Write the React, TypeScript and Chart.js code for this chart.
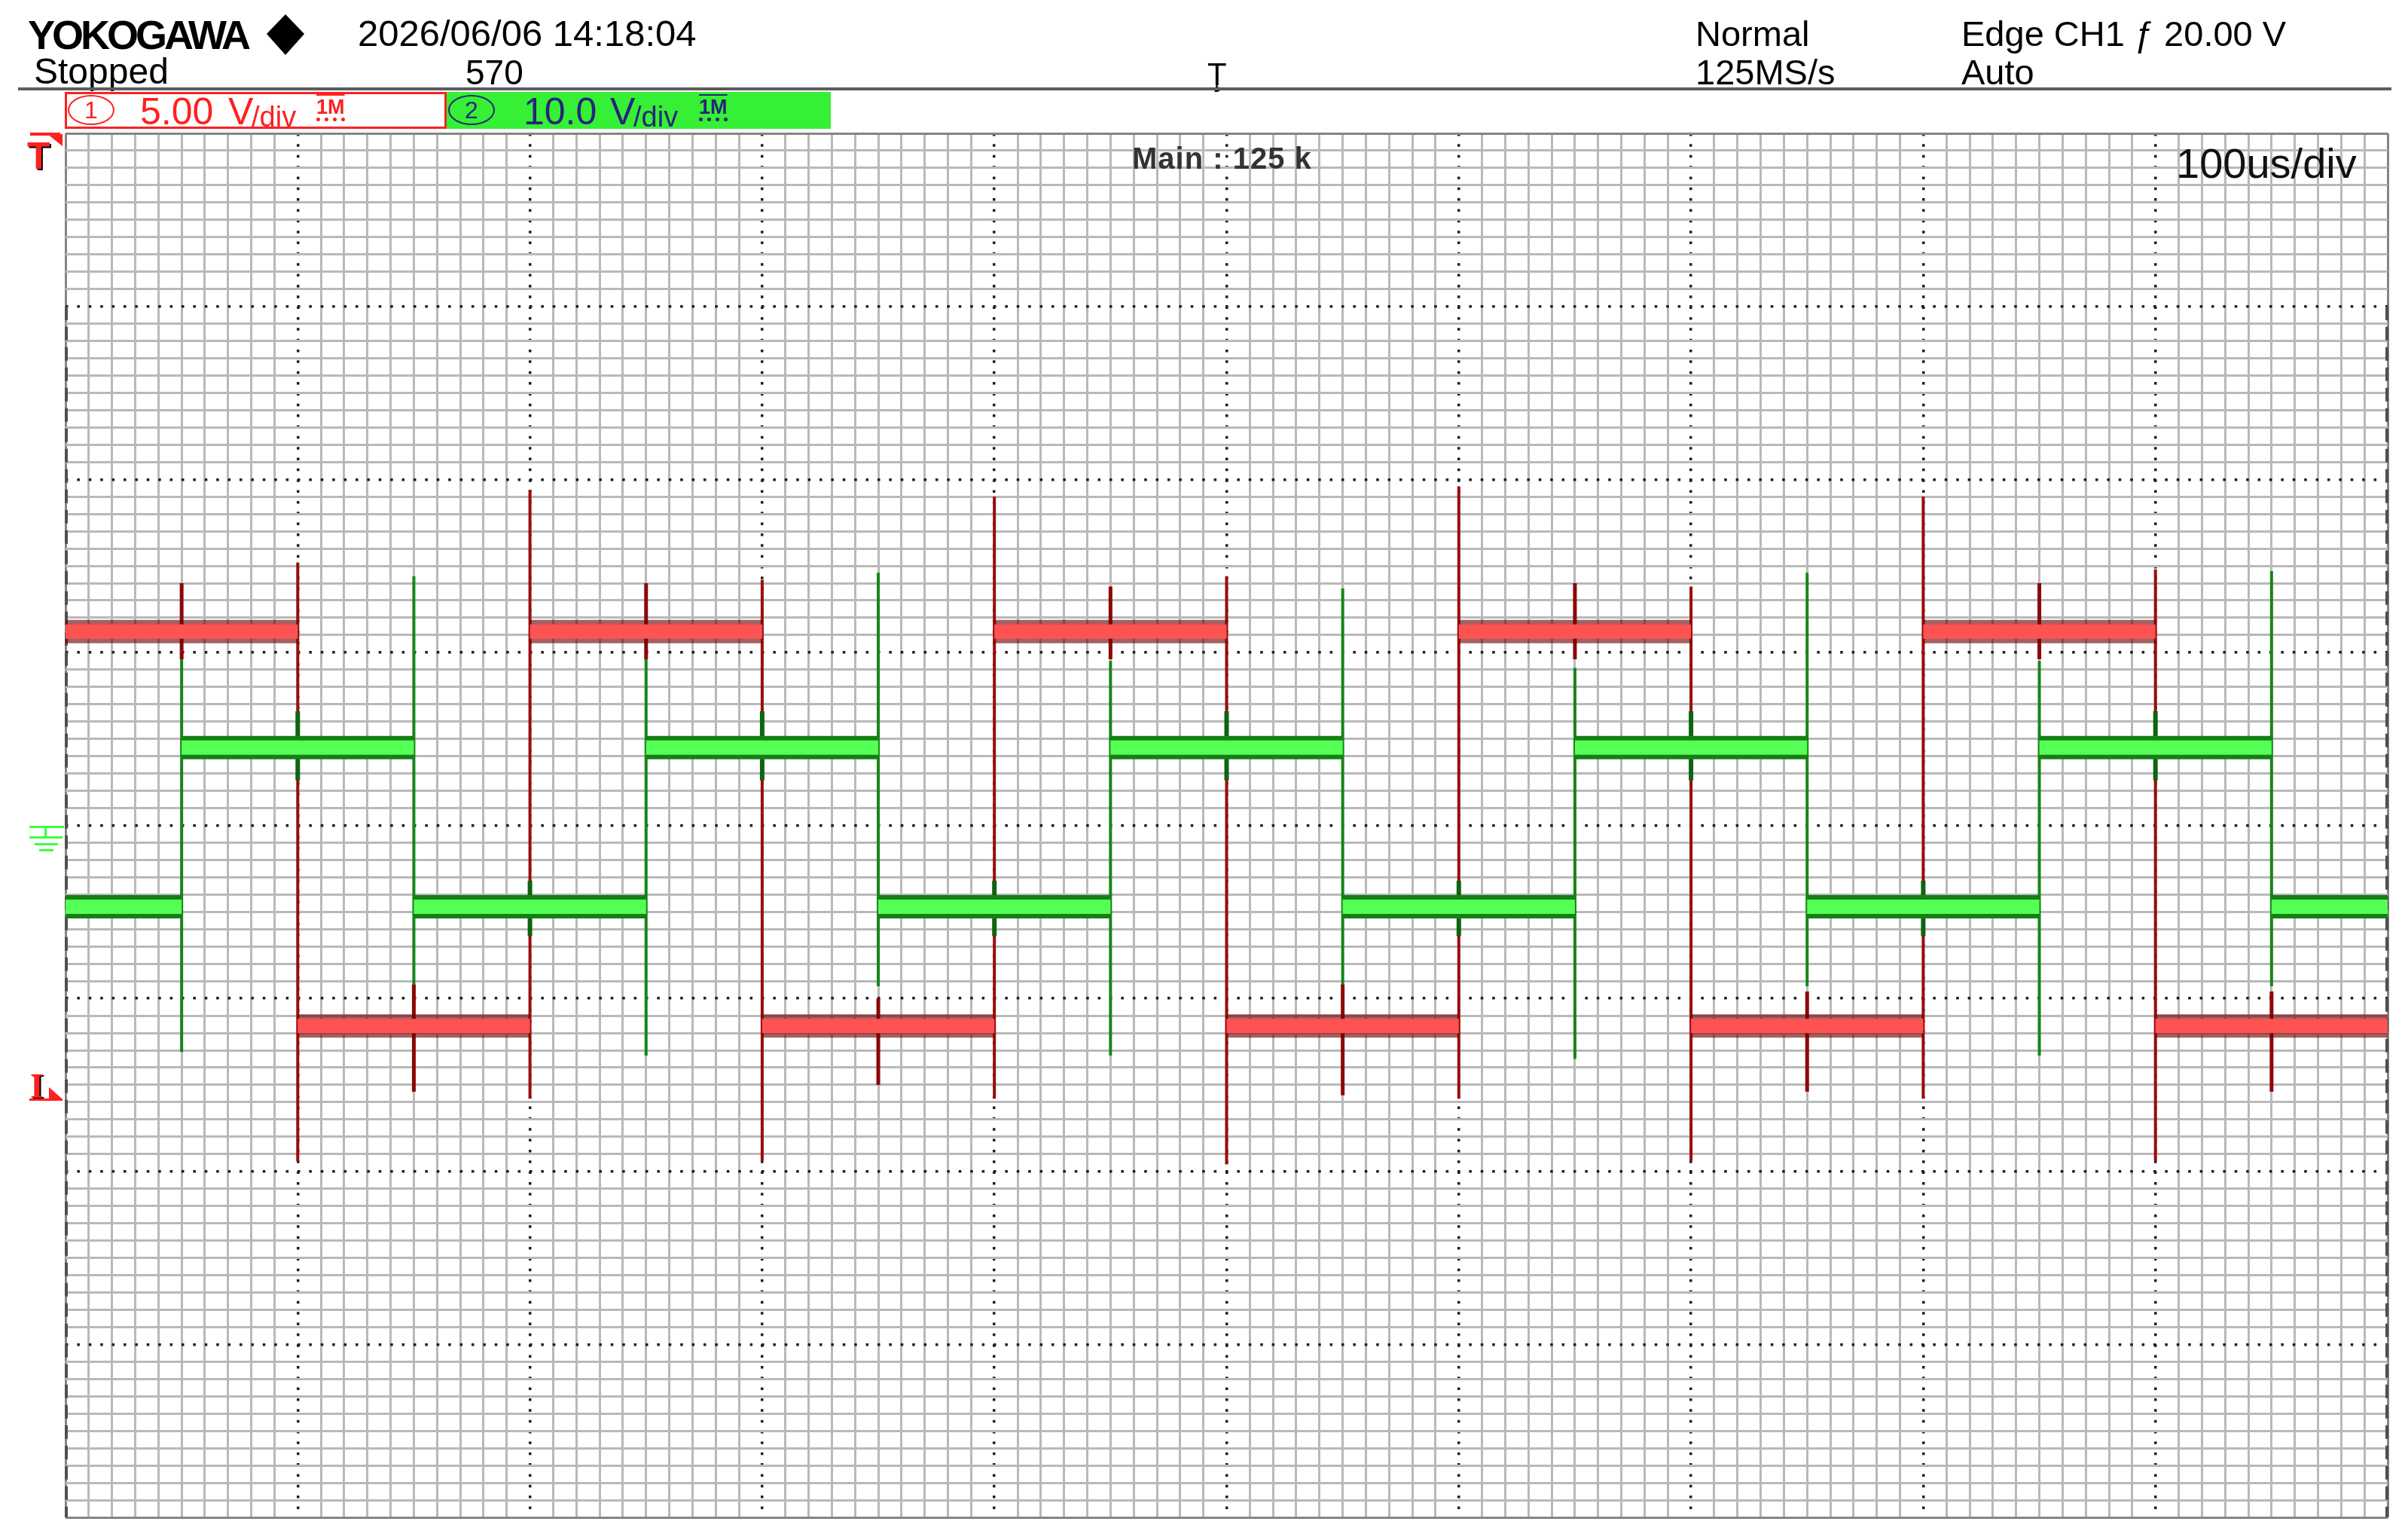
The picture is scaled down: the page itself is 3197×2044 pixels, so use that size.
import { useEffect, useRef } from 'react';
import { Chart, registerables } from 'chart.js';

Chart.register(...registerables);

// ---------------- data (time in µs, 100 µs/div) ----------------
const timeMin = -500;
const timeMax = 500;

// CH1 (red, 5.00 V/div) – flat levels in volts
const ch1SegStart = [-500, -400, -300, -200, -100, 0, 100, 200, 300, 400];
const ch1SegEnd = [-400, -300, -200, -100, 0, 100, 200, 300, 400, 500];
const ch1SegLevel = [13.6, 2.2, 13.6, 2.2, 13.6, 2.2, 13.6, 2.2, 13.6, 2.2];
// CH1 switching edges (with overshoot / undershoot extremes)
const ch1EdgeTime = [-400, -300, -200, -100, 0, 100, 200, 300, 400];
const ch1EdgeMax = [15.6, 17.7, 15.1, 17.5, 15.2, 17.8, 14.9, 17.5, 15.4];
const ch1EdgeMin = [-1.7, 0.1, -1.7, 0.1, -1.8, 0.1, -1.7, 0.1, -1.7];
// CH1 crosstalk glitches at CH2 edges
const ch1GlitchTime = [-450, -350, -250, -150, -50, 50, 150, 250, 350, 450];
const ch1GlitchMax = [15.0, 3.4, 15.0, 3.0, 14.9, 3.4, 15.0, 3.2, 15.0, 3.2];
const ch1GlitchMin = [12.8, 0.3, 12.8, 0.5, 12.8, 0.2, 12.8, 0.3, 12.8, 0.3];

// CH2 (green, 10.0 V/div)
const ch2SegStart = [-500, -450, -350, -250, -150, -50, 50, 150, 250, 350, 450];
const ch2SegEnd = [-450, -350, -250, -150, -50, 50, 150, 250, 350, 450, 500];
const ch2SegLevel = [-4.7, 4.5, -4.7, 4.5, -4.7, 4.5, -4.7, 4.5, -4.7, 4.5, -4.7];
const ch2EdgeTime = [-450, -350, -250, -150, -50, 50, 150, 250, 350, 450];
const ch2EdgeMax = [9.8, 14.4, 9.6, 14.6, 9.5, 13.7, 9.1, 14.6, 9.5, 14.7];
const ch2EdgeMin = [-13.1, -9.3, -13.3, -9.3, -13.3, -9.3, -13.5, -9.3, -13.3, -9.3];
const ch2GlitchTime = [-400, -300, -200, -100, 0, 100, 200, 300, 400];
const ch2GlitchMax = [6.6, -3.2, 6.6, -3.2, 6.6, -3.2, 6.6, -3.2, 6.6];
const ch2GlitchMin = [2.6, -6.4, 2.6, -6.4, 2.6, -6.4, 2.6, -6.4, 2.6];

// screen ranges (8 vertical divisions)
const ch1Min = -12;
const ch1Max = 28;
const ch2Min = -40;
const ch2Max = 40;

// ---------------- helpers ----------------
type P = { x: number; y: number | null };
function levelPoints(starts: number[], ends: number[], levels: number[]): P[] {
  const pts: P[] = [];
  starts.forEach((s, i) => {
    pts.push({ x: s, y: levels[i] }, { x: ends[i], y: levels[i] }, { x: ends[i], y: null });
  });
  return pts;
}
function spikePoints(times: number[], maxs: number[], mins: number[]): P[] {
  const pts: P[] = [];
  times.forEach((t, i) => {
    pts.push({ x: t, y: maxs[i] }, { x: t, y: mins[i] }, { x: t, y: null });
  });
  return pts;
}

const FONT = '"Liberation Sans", Arial, Helvetica, sans-serif';
const SERIF = '"Liberation Serif", "Times New Roman", serif';

function Txt(props: any) {
  const { x, b, size, color = '#000', weight = 400, family = FONT, ls = 0, children, extra = {} } = props;
  const asc = family === SERIF ? 0.8375 : 0.8465;
  return (
    <div
      style={{
        position: 'absolute',
        left: x,
        top: b - asc * size,
        fontSize: size,
        lineHeight: 1,
        fontFamily: family,
        fontWeight: weight,
        color,
        letterSpacing: ls,
        whiteSpace: 'nowrap',
        ...extra,
      }}
    >
      {children}
    </div>
  );
}

function Box(props: any) {
  const { x, y, w, h, bg, extra = {} } = props;
  return <div style={{ position: 'absolute', left: x, top: y, width: w, height: h, background: bg, ...extra }} />;
}

const scopeBorders = {
  id: 'scopeBorders',
  beforeDatasetsDraw(chart: any) {
    const { ctx, chartArea, scales } = chart;
    const yTop = scales.y.getPixelForValue(30);
    ctx.save();
    ctx.strokeStyle = '#505050';
    ctx.lineWidth = 4;
    ctx.setLineDash([18, 9]);
    ctx.beginPath();
    ctx.moveTo(chartArea.left + 1, yTop);
    ctx.lineTo(chartArea.left + 1, chartArea.bottom);
    ctx.moveTo(chartArea.right - 1, yTop);
    ctx.lineTo(chartArea.right - 1, chartArea.bottom);
    ctx.stroke();
    ctx.restore();
  },
};

const MINOR = '#b9b9b9';
const FRAME = '#858585';
const DOT = '#1e1e1e';

export default function App() {
  const ref = useRef<HTMLCanvasElement | null>(null);

  useEffect(() => {
    const common = { pointRadius: 0, pointHoverRadius: 0, tension: 0, spanGaps: false, fill: false };
    const chart = new Chart(ref.current as HTMLCanvasElement, {
      type: 'line',
      data: {
        datasets: [
          { ...common, label: 'CH1', data: levelPoints(ch1SegStart, ch1SegEnd, ch1SegLevel) as any, yAxisID: 'y1', borderColor: '#ff5252', borderWidth: 19, order: 1 },
          { ...common, label: 'CH1 noise', data: levelPoints(ch1SegStart, ch1SegEnd, ch1SegLevel) as any, yAxisID: 'y1', borderColor: 'rgba(110,0,0,0.62)', borderWidth: 31, order: 2 },
          { ...common, label: 'CH2', data: levelPoints(ch2SegStart, ch2SegEnd, ch2SegLevel) as any, yAxisID: 'y', borderColor: '#55ff55', borderWidth: 19, order: 3 },
          { ...common, label: 'CH2 noise', data: levelPoints(ch2SegStart, ch2SegEnd, ch2SegLevel) as any, yAxisID: 'y', borderColor: '#157f15', borderWidth: 31, order: 4 },
          { ...common, label: 'CH1 glitch', data: spikePoints(ch1GlitchTime, ch1GlitchMax, ch1GlitchMin) as any, yAxisID: 'y1', borderColor: '#8c0808', borderWidth: 5, order: 5 },
          { ...common, label: 'CH2 glitch', data: spikePoints(ch2GlitchTime, ch2GlitchMax, ch2GlitchMin) as any, yAxisID: 'y', borderColor: '#0f640f', borderWidth: 6, order: 6 },
          { ...common, label: 'CH1 edge', data: spikePoints(ch1EdgeTime, ch1EdgeMax, ch1EdgeMin) as any, yAxisID: 'y1', borderColor: '#9a0c0c', borderWidth: 4, order: 7 },
          { ...common, label: 'CH2 edge', data: spikePoints(ch2EdgeTime, ch2EdgeMax, ch2EdgeMin) as any, yAxisID: 'y', borderColor: '#178517', borderWidth: 4, order: 8 },
        ],
      },
      options: {
        animation: false,
        responsive: false,
        devicePixelRatio: 1,
        events: [],
        layout: { padding: { left: 87, top: 177, right: 27, bottom: 30 } },
        plugins: { legend: { display: false }, tooltip: { enabled: false }, title: { display: false } },
        scales: {
          x: {
            type: 'linear',
            min: timeMin,
            max: timeMax,
            ticks: { display: false, stepSize: 10, autoSkip: false },
            border: { display: false },
            grid: {
              drawTicks: false,
              lineWidth: 3,
              color: (c: any) => {
                const v = Math.round(c.tick.value);
                if (v === timeMin || v === timeMax) return FRAME;
                return v % 100 === 0 ? 'rgba(0,0,0,0)' : MINOR;
              },
            },
          },
          xMajor: {
            type: 'linear',
            position: 'bottom',
            min: timeMin,
            max: timeMax,
            ticks: { display: false, stepSize: 100, autoSkip: false },
            border: { display: false, dash: [3.5, 10.85] },
            grid: {
              drawTicks: false,
              lineWidth: 3.5,
              color: (c: any) => {
                const v = Math.round(c.tick.value);
                return v === timeMin || v === timeMax ? 'rgba(0,0,0,0)' : DOT;
              },
            },
          },
          y: {
            type: 'linear',
            min: ch2Min,
            max: ch2Max,
            ticks: { display: false, stepSize: 1, autoSkip: false },
            border: { display: false },
            grid: {
              drawTicks: false,
              lineWidth: 3,
              color: (c: any) => {
                const v = Math.round(c.tick.value);
                if (v === ch2Min || v === ch2Max) return FRAME;
                return v % 10 === 0 ? 'rgba(0,0,0,0)' : MINOR;
              },
            },
          },
          yMajor: {
            type: 'linear',
            position: 'left',
            min: ch2Min,
            max: ch2Max,
            ticks: { display: false, stepSize: 10, autoSkip: false },
            border: { display: false, dash: [3.5, 11.9] },
            grid: {
              drawTicks: false,
              lineWidth: 3.5,
              color: (c: any) => {
                const v = Math.round(c.tick.value);
                return v === ch2Min || v === ch2Max ? 'rgba(0,0,0,0)' : DOT;
              },
            },
          },
          y1: { type: 'linear', display: false, min: ch1Min, max: ch1Max },
        },
      } as any,
      plugins: [scopeBorders],
    });
    return () => chart.destroy();
  }, []);

  const red = '#ff2020';
  const navy = '#25257a';
  const green = '#36f036';

  return (
    <div style={{ position: 'absolute', left: 0, top: 0, width: 3197, height: 2044, background: '#fff', overflow: 'hidden' }}>
      <canvas ref={ref} width={3197} height={2044} style={{ position: 'absolute', left: 0, top: 0, width: 3197, height: 2044 }} />

      {/* header line 1 */}
      <Txt x={37} b={65} size={54} weight={700} ls={-4}>YOKOGAWA</Txt>
      <Box x={354} y={19} w={50} h={54} bg="#000" extra={{ clipPath: 'polygon(50% 0, 100% 48%, 50% 100%, 0 48%)' }} />
      <Txt x={475} b={61} size={49}>2026/06/06 14:18:04</Txt>
      <Txt x={2251} b={61} size={47}>Normal</Txt>
      <Txt x={2604} b={61} size={47}>Edge CH1 ƒ 20.00 V</Txt>

      {/* header line 2 */}
      <Txt x={45} b={112} size={48}>Stopped</Txt>
      <Txt x={618} b={112} size={46}>570</Txt>
      <Txt x={1603} b={114} size={42}>Ţ</Txt>
      <Txt x={2251} b={112} size={47}>125MS/s</Txt>
      <Txt x={2604} b={112} size={47}>Auto</Txt>

      {/* separator */}
      <Box x={24} y={116} w={3151} h={4} bg="#5c5c5c" />

      {/* channel boxes */}
      <Box x={86} y={122} w={507} h={49} bg="#fff" extra={{ border: `3px solid ${red}`, boxSizing: 'border-box' }} />
      <div style={{ position: 'absolute', left: 90, top: 126, width: 62, height: 40, border: `2px solid ${red}`, borderRadius: '50%', boxSizing: 'border-box', color: red, fontFamily: FONT, fontSize: 32, lineHeight: '36px', textAlign: 'center' }}>1</div>
      <Txt x={186} b={165} size={50} color={red}>5.00</Txt>
      <Txt x={303} b={165} size={50} color={red}>V</Txt>
      <Txt x={334} b={168} size={38} color={red}>/div</Txt>
      <Txt x={420} b={152} size={27} color={red} weight={700} extra={{ textDecoration: 'overline', borderBottom: `5px dotted ${red}` }}>1M</Txt>

      <Box x={593} y={122} w={510} h={49} bg={green} />
      <div style={{ position: 'absolute', left: 595, top: 126, width: 62, height: 40, border: `2px solid ${navy}`, borderRadius: '50%', boxSizing: 'border-box', color: navy, fontFamily: FONT, fontSize: 32, lineHeight: '36px', textAlign: 'center' }}>2</div>
      <Txt x={695} b={165} size={50} color={navy}>10.0</Txt>
      <Txt x={810} b={165} size={50} color={navy}>V</Txt>
      <Txt x={841} b={168} size={38} color={navy}>/div</Txt>
      <Txt x={928} b={152} size={27} color={navy} weight={700} extra={{ textDecoration: 'overline', borderBottom: `5px dotted ${navy}` }}>1M</Txt>

      {/* trigger level marker (top-left) */}
      <Box x={40} y={176} w={40} h={4} bg={red} />
      <Txt x={36} b={224} size={50} weight={700} color={red} extra={{ textShadow: '2px 2px 0 #000' }}>T</Txt>
      <Box x={63} y={178} w={20} h={16} bg={red} extra={{ clipPath: 'polygon(0 0, 100% 0, 100% 100%)' }} />

      {/* CH2 ground symbol */}
      <Box x={39} y={1096} w={46} h={3} bg="#3cff3c" />
      <Box x={59} y={1099} w={3} h={12} bg="#3cff3c" />
      <Box x={39} y={1110} w={44} h={3} bg="#3cff3c" />
      <Box x={46} y={1119} w={31} h={3} bg="#3cff3c" />
      <Box x={52} y={1127} w={19} h={3} bg="#3cff3c" />

      {/* CH1 marker */}
      <Txt x={40} b={1458} size={46} weight={700} family={SERIF} color={red} extra={{ textShadow: '2px 1px 0 #000' }}>I</Txt>
      <Box x={65} y={1443} w={18} h={16} bg={red} extra={{ clipPath: 'polygon(0 0, 100% 100%, 0 100%)' }} />
      <Box x={39} y={1458} w={44} h={3} bg={red} />

      {/* in-screen annotations */}
      <Txt x={1503} b={224} size={40} weight={700} color="#333" ls={1}>Main : 125 k</Txt>
      <Txt x={2889} b={236} size={56} color="#111">100us/div</Txt>
    </div>
  );
}
